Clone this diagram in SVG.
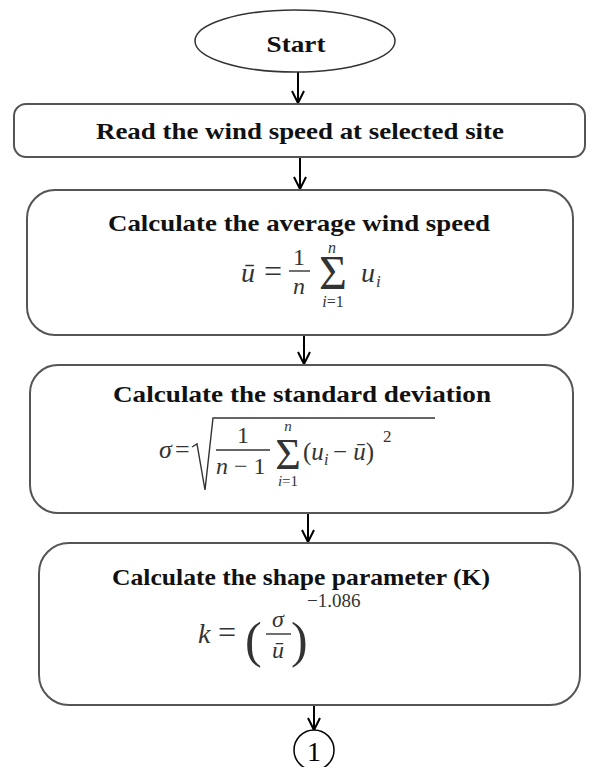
<svg xmlns="http://www.w3.org/2000/svg" width="591" height="767" viewBox="0 0 591 767">
<defs>
<marker id="ah" viewBox="0 0 14 14" refX="13" refY="7" markerWidth="14" markerHeight="14" markerUnits="userSpaceOnUse" orient="auto">
<path d="M1,1 L13,7 L1,13" fill="none" stroke="#000" stroke-width="2"/>
</marker>
<style>
.box{fill:#fff;stroke:#555;stroke-width:2}
.title{font-family:"Liberation Serif",serif;font-weight:bold;font-size:23px;fill:#111;text-anchor:middle}
.m{font-family:"Liberation Serif","DejaVu Serif",serif;font-size:28px;fill:#333;font-style:italic}
.mr{font-family:"Liberation Serif","DejaVu Serif",serif;font-size:28px;fill:#333}
.c{text-anchor:middle}
.fl{stroke:#333;stroke-width:1.4;fill:none}
.conn{stroke:#000;stroke-width:2;fill:none;marker-end:url(#ah)}
</style>
</defs>
<g id="connectors">
<line class="conn" x1="298" y1="72" x2="298" y2="103"/>
<line class="conn" x1="300" y1="157" x2="300" y2="189"/>
<line class="conn" x1="304" y1="335" x2="304" y2="364"/>
<line class="conn" x1="308" y1="513" x2="308" y2="542"/>
<line class="conn" x1="314" y1="705" x2="314" y2="730"/>
</g>
<g id="start">
<ellipse cx="295" cy="41" rx="100" ry="31" fill="#fff" stroke="#333" stroke-width="1.5"/>
<text class="title" x="296" y="52" textLength="59" lengthAdjust="spacingAndGlyphs">Start</text>
</g>
<g id="read">
<rect class="box" x="14" y="104" width="571" height="53" rx="12"/>
<text class="title" x="300" y="139" textLength="408" lengthAdjust="spacingAndGlyphs">Read the wind speed at selected site</text>
</g>
<g id="average">
<rect class="box" x="27" y="190" width="546" height="145" rx="28"/>
<text class="title" x="299" y="231" textLength="382" lengthAdjust="spacingAndGlyphs">Calculate the average wind speed</text>
<text class="m" x="241" y="282">ū</text>
<text class="mr" x="264" y="282" style="font-size:32px">=</text>
<text class="mr c" x="299" y="265" style="font-size:24px">1</text>
<line class="fl" x1="289" y1="271" x2="310" y2="271"/>
<text class="m c" x="299" y="294" style="font-size:24px">n</text>
<text class="mr c" x="333" y="289" style="font-size:48px">Σ</text>
<text class="m c" x="332" y="253" style="font-size:16px">n</text>
<text class="m c" x="333" y="307" style="font-size:16px">i<tspan font-style="normal">=1</tspan></text>
<text class="m" x="361" y="282">u</text>
<text class="m" x="376" y="287" style="font-size:17px">i</text>
</g>
<g id="stddev">
<rect class="box" x="30" y="365" width="543" height="148" rx="28"/>
<text class="title" x="302" y="402" textLength="378" lengthAdjust="spacingAndGlyphs">Calculate the standard deviation</text>
<text class="m" x="159" y="458" style="font-size:26px">σ</text>
<text class="mr" x="175" y="458" style="font-size:26px">=</text>
<path class="fl" d="M192,447 L197,444 L205,490 L213,418 L435,418"/>
<text class="mr c" x="243" y="443" style="font-size:24px">1</text>
<line class="fl" x1="216" y1="450" x2="270" y2="450"/>
<text class="m" x="216" y="474" style="font-size:24px">n<tspan font-style="normal"> − 1</tspan></text>
<text class="mr c" x="288" y="469" style="font-size:44px">Σ</text>
<text class="m c" x="288" y="431" style="font-size:15px">n</text>
<text class="m c" x="288" y="486" style="font-size:15px">i<tspan font-style="normal">=1</tspan></text>
<text class="mr" x="303" y="460" style="font-size:25px">(<tspan font-style="italic">u</tspan></text>
<text class="m" x="324" y="465" style="font-size:16px">i</text>
<text class="mr" x="333" y="460" style="font-size:25px">− <tspan font-style="italic">ū</tspan>)</text>
<text class="mr" x="383" y="442" style="font-size:17px">2</text>
</g>
<g id="shape">
<rect class="box" x="39" y="543" width="541" height="162" rx="30"/>
<text class="title" x="301" y="585" textLength="378" lengthAdjust="spacingAndGlyphs">Calculate the shape parameter (K)</text>
<text class="m" x="198" y="643">k</text>
<text class="mr" x="218" y="643" style="font-size:32px">=</text>
<text class="mr" x="245" y="657" style="font-size:50px">(</text>
<text class="m c" x="278" y="627" style="font-size:24px">σ</text>
<line class="fl" x1="266" y1="634" x2="291" y2="634"/>
<text class="m c" x="278" y="658" style="font-size:24px">ū</text>
<text class="mr" x="291" y="657" style="font-size:50px">)</text>
<text class="mr" x="307" y="607" style="font-size:19px">−1.086</text>
</g>
<g id="conn1">
<circle cx="314" cy="750" r="20" fill="#fff" stroke="#000" stroke-width="1.5"/>
<text x="314" y="761" font-family="Liberation Serif,serif" font-size="28" text-anchor="middle" fill="#000">1</text>
</g>
</svg>
